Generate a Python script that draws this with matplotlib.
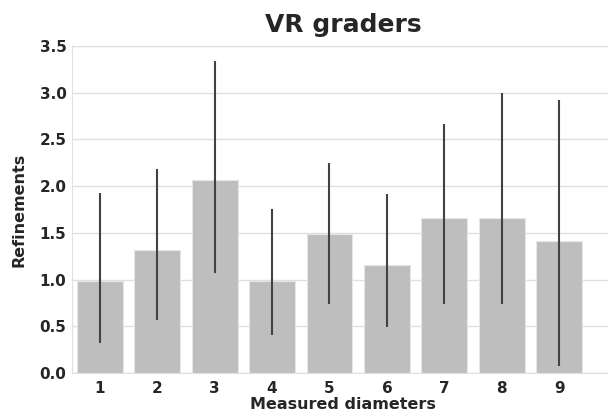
import matplotlib
matplotlib.use("Agg")
import matplotlib.pyplot as plt
import seaborn as sns
import numpy as np

sns.set_style("whitegrid")
plt.rcParams["font.family"] = ["DejaVu Sans"]

diameters = ["1", "2", "3", "4", "5", "6", "7", "8", "9"]
mean_refinements = [0.99, 1.32, 2.07, 0.99, 1.49, 1.16, 1.66, 1.66, 1.41]
ci_low = [0.32, 0.57, 1.07, 0.41, 0.74, 0.49, 0.74, 0.74, 0.08]
ci_high = [1.93, 2.18, 3.34, 1.76, 2.25, 1.92, 2.67, 3.00, 2.92]

fig = plt.figure(figsize=(6.08, 4.13), dpi=100)
ax = fig.add_axes([72 / 608, 40 / 413, 542 / 608, 327 / 413])

x = np.arange(len(diameters))
ax.bar(x, mean_refinements, width=0.8, color="#bebebe", edgecolor="#e6e6e6", linewidth=0.8, zorder=2)
ax.vlines(x, ci_low, ci_high, color="#424242", linewidth=1.5, zorder=3)

ax.set_xlim(-0.48, 8.95)
ax.set_ylim(0, 3.5)
ax.set_yticks(np.arange(0, 3.51, 0.5))
ax.set_xticks(x)
ax.set_xticklabels(diameters)
ax.grid(axis="x", visible=False)
ax.grid(axis="y", color="#e0e0e0", linewidth=1)
for sp in ax.spines.values():
    sp.set_color("#e0e0e0")
ax.set_axisbelow(True)
ax.tick_params(axis="x", pad=2.5)
ax.tick_params(axis="y", pad=0.5)

for lbl in ax.get_xticklabels() + ax.get_yticklabels():
    lbl.set_fontsize(11)
    lbl.set_fontweight("bold")
    lbl.set_color("#262626")

ax.set_title("VR graders", fontsize=18, fontweight="bold", color="#262626", pad=10)
ax.set_xlabel("Measured diameters", fontsize=11.5, fontweight="bold", color="#262626", labelpad=0.5)
ax.set_ylabel("Refinements", fontsize=11.5, fontweight="bold", color="#262626", labelpad=9)

fig.savefig("out.png", dpi=100)
